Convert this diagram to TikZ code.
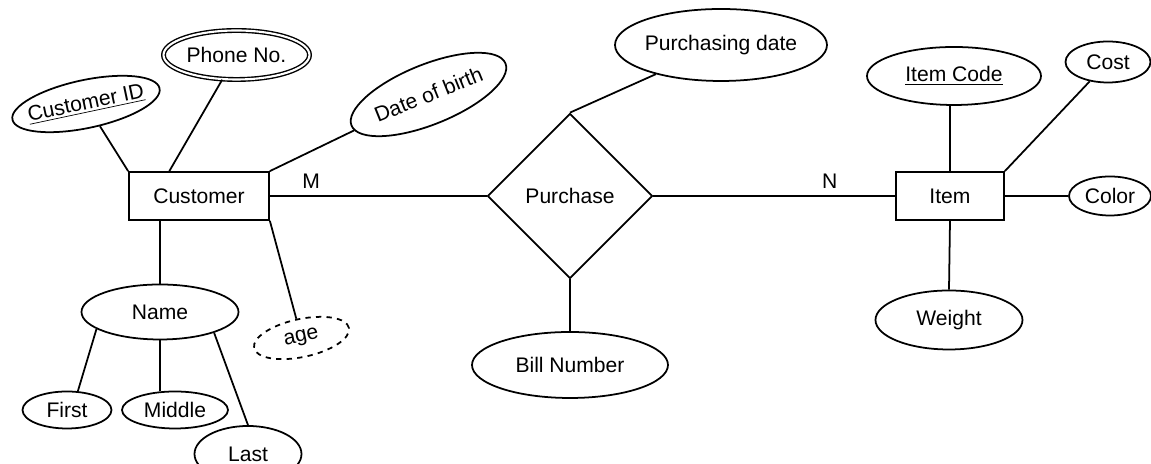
\documentclass[tikz,border=0pt]{standalone}
\usepackage{fontspec}
\setmainfont{Liberation Sans}
\usetikzlibrary{shapes.geometric}

\begin{document}
\begin{tikzpicture}[font=\fontsize{12}{14}\selectfont, line width=1pt,
  entity/.style   = {draw, rectangle, minimum height=0.96cm, inner sep=0pt},
  relation/.style = {draw, diamond, minimum width=3.3cm, minimum height=3.3cm,
                     inner sep=0pt},
  attr/.style     = {draw, ellipse, inner sep=0pt},
  multi/.style    = {attr, double, double distance=1.2pt, line width=0.8pt},
  derived/.style  = {attr, dashed},
  card/.style     = {above, inner sep=4pt}
]
  \useasboundingbox (0,0) rectangle (23.02,9.28);

  %% entities and relationship
  \node[entity, minimum width=2.8cm]  (cust) at (3.98,5.36)  {Customer\hspace{0.3cm}};
  \node[relation]                     (buy)  at (11.40,5.36) {Purchase};
  \node[entity, minimum width=2.16cm] (item) at (19.00,5.36) {Item};

  %% customer attributes
  \node[attr, minimum width=3.0cm, minimum height=0.96cm, inner xsep=-1.2mm,
        rotate=12] (cid) at (1.72,7.20) {\underline{Customer ID}};
  \node[multi, minimum width=2.92cm, minimum height=0.98cm] (phone) at (4.73,8.18) {Phone No.};
  \node[attr, minimum width=3.32cm, minimum height=1.2cm, rotate=22] (dob) at (8.57,7.39) {Date of birth};
  \node[derived, minimum width=1.94cm, minimum height=0.76cm, rotate=12] (age) at (6.03,2.52) {age};
  \node[attr, minimum width=3.14cm, minimum height=1.10cm] (name) at (3.20,3.04) {Name};
  \node[attr, minimum width=1.78cm, minimum height=0.74cm] (first) at (1.34,1.08) {First};
  \node[attr, minimum width=2.12cm, minimum height=0.74cm] (middle) at (3.50,1.08) {Middle};
  \node[attr, minimum width=2.14cm, minimum height=1.12cm] (last) at (4.96,0.20) {Last};

  %% purchase attributes
  \node[attr, minimum width=4.24cm, minimum height=1.44cm, inner xsep=-1.2mm] (pdate) at (14.42,8.38) {Purchasing date};
  \node[attr, minimum width=3.92cm, minimum height=1.32cm] (bill) at (11.40,1.98) {Bill Number};

  %% item attributes
  \node[attr, minimum width=3.48cm, minimum height=1.16cm] (icode) at (19.08,7.76) {\underline{Item Code}};
  \node[attr, minimum width=1.70cm, minimum height=0.82cm] (cost) at (22.16,8.04) {Cost};
  \node[attr, minimum width=1.64cm, minimum height=0.78cm] (color) at (22.20,5.36) {Color};
  \node[attr, minimum width=2.94cm, minimum height=1.18cm] (weight) at (18.98,2.88) {Weight};

  %% relationship lines
  \draw (cust.east) -- node[card, pos=0.19]{M} (buy.west);
  \draw (buy.east) -- node[card, pos=0.73]{N} (item.west);

  %% customer links
  \draw (cid) -- (cust.north west);
  \draw (phone) -- (cust.140);
  \draw (dob) -- (cust.north east);
  \draw (cust.south east) -- (age);
  \draw (name.north) -- (name.north |- cust.south);
  \draw (name.195) -- (first.60);
  \draw (name.south) -- (name.south |- middle.north);
  \draw (name.-21) -- (last.north);

  %% purchase links
  \draw (pdate) -- (buy.north);
  \draw (buy.south) -- (bill.north);

  %% item links
  \draw (item.north) -- (item.north |- icode.south);
  \draw (cost) -- (item.north east);
  \draw (item.east) -- (color.west);
  \draw (item.south) -- (weight.north);
\end{tikzpicture}
\end{document}
